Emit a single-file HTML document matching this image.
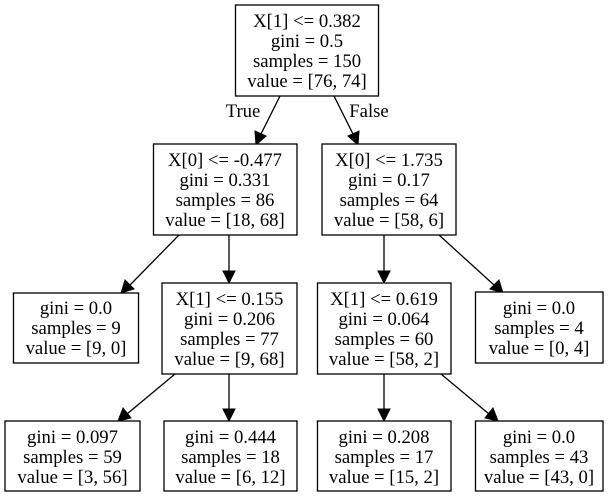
<!DOCTYPE html>
<html><head><meta charset="utf-8"><style>
html,body{margin:0;padding:0;background:#fff;}
svg{display:block;}
text{font-family:"Liberation Serif",serif;font-size:18.7px;fill:#000;text-anchor:middle;}
rect{fill:#fff;stroke:#000;stroke-width:1.3;}
line{stroke:#000;stroke-width:1.3;}
polygon{fill:#000;stroke:#000;}
</style></head><body>
<svg width="608" height="497" viewBox="0 0 608 497">
<!-- edges -->
<line x1="280" y1="96" x2="261" y2="134"/><polygon points="256,145 255,131 266,136"/>
<line x1="334" y1="96" x2="353" y2="134"/><polygon points="358,145 348,136 359,131"/>
<text x="243" y="117">True</text>
<text x="369" y="117">False</text>

<line x1="179" y1="235" x2="130" y2="285"/><polygon points="121,293 125,280 134,289"/>
<line x1="229" y1="235" x2="229" y2="272"/><polygon points="229,283 223,271 235,271"/>
<line x1="384" y1="235" x2="384" y2="272"/><polygon points="384,283 378,271 390,271"/>
<line x1="439" y1="235" x2="494" y2="285"/><polygon points="503,293 490,289 499,280"/>

<line x1="175" y1="374" x2="127" y2="414"/><polygon points="118,421 123,408 131,418"/>
<line x1="229" y1="374" x2="229" y2="410"/><polygon points="229,421 223,409 235,409"/>
<line x1="384" y1="374" x2="384" y2="410"/><polygon points="384,421 378,409 390,409"/>
<line x1="441" y1="374" x2="489" y2="414"/><polygon points="498,421 485,418 493,408"/>

<!-- nodes -->
<rect x="235.5" y="5" width="143" height="91"/>
<text x="307" y="27">X[1] &lt;= 0.382</text><text x="307" y="47">gini = 0.5</text><text x="307" y="67">samples = 150</text><text x="307" y="87">value = [76, 74]</text>

<rect x="153.5" y="144" width="143.5" height="91"/>
<text x="225" y="166">X[0] &lt;= -0.477</text><text x="225" y="186">gini = 0.331</text><text x="225" y="206">samples = 86</text><text x="225" y="226">value = [18, 68]</text>

<rect x="322" y="144" width="134" height="91"/>
<text x="389" y="166">X[0] &lt;= 1.735</text><text x="389" y="186">gini = 0.17</text><text x="389" y="206">samples = 64</text><text x="389" y="226">value = [58, 6]</text>

<rect x="13.5" y="293" width="125" height="70"/>
<text x="76" y="314">gini = 0.0</text><text x="76" y="334">samples = 9</text><text x="76" y="354">value = [9, 0]</text>

<rect x="162" y="283" width="135" height="91"/>
<text x="229.5" y="305">X[1] &lt;= 0.155</text><text x="229.5" y="325">gini = 0.206</text><text x="229.5" y="345">samples = 77</text><text x="229.5" y="365">value = [9, 68]</text>

<rect x="317.5" y="283" width="133.5" height="91"/>
<text x="384" y="305">X[1] &lt;= 0.619</text><text x="384" y="325">gini = 0.064</text><text x="384" y="345">samples = 60</text><text x="384" y="365">value = [58, 2]</text>

<rect x="475.5" y="292" width="127.5" height="71"/>
<text x="539" y="314">gini = 0.0</text><text x="539" y="334">samples = 4</text><text x="539" y="354">value = [0, 4]</text>

<rect x="5" y="421" width="135" height="70"/>
<text x="72.5" y="443">gini = 0.097</text><text x="72.5" y="463">samples = 59</text><text x="72.5" y="483">value = [3, 56]</text>

<rect x="164" y="421" width="133" height="70"/>
<text x="230.5" y="443">gini = 0.444</text><text x="230.5" y="463">samples = 18</text><text x="230.5" y="483">value = [6, 12]</text>

<rect x="317.5" y="421" width="133.5" height="70"/>
<text x="384" y="443">gini = 0.208</text><text x="384" y="463">samples = 17</text><text x="384" y="483">value = [15, 2]</text>

<rect x="475.5" y="421" width="127.5" height="70"/>
<text x="539" y="443">gini = 0.0</text><text x="539" y="463">samples = 43</text><text x="539" y="483">value = [43, 0]</text>
</svg>
</body></html>
